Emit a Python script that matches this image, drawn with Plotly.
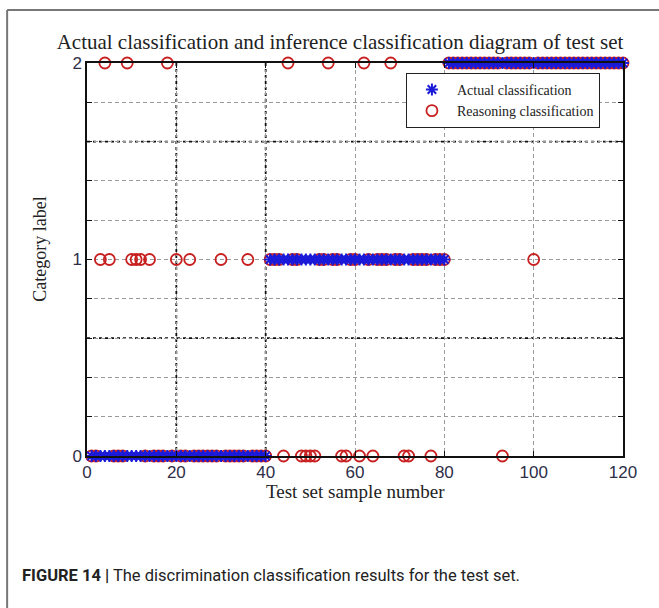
import plotly.graph_objects as go

# Test-set sample numbers
samples = list(range(1, 121))

# Actual category of every test sample
actual = [
    0, 0, 0, 0, 0, 0, 0, 0, 0, 0, 0, 0, 0, 0, 0, 0, 0, 0, 0, 0,
    0, 0, 0, 0, 0, 0, 0, 0, 0, 0, 0, 0, 0, 0, 0, 0, 0, 0, 0, 0,
    1, 1, 1, 1, 1, 1, 1, 1, 1, 1, 1, 1, 1, 1, 1, 1, 1, 1, 1, 1,
    1, 1, 1, 1, 1, 1, 1, 1, 1, 1, 1, 1, 1, 1, 1, 1, 1, 1, 1, 1,
    2, 2, 2, 2, 2, 2, 2, 2, 2, 2, 2, 2, 2, 2, 2, 2, 2, 2, 2, 2,
    2, 2, 2, 2, 2, 2, 2, 2, 2, 2, 2, 2, 2, 2, 2, 2, 2, 2, 2, 2,
]

# Inferred (reasoning) category of every test sample
inferred = [
    0, 0, 1, 2, 1, 0, 0, 0, 2, 1, 1, 1, 0, 1, 0, 0, 0, 2, 0, 1,
    0, 0, 1, 0, 0, 0, 0, 0, 0, 1, 0, 0, 0, 0, 0, 1, 0, 0, 0, 0,
    1, 1, 1, 0, 2, 1, 1, 0, 0, 0, 0, 1, 1, 2, 1, 1, 0, 0, 1, 1,
    0, 2, 1, 0, 1, 1, 1, 2, 1, 1, 0, 0, 1, 1, 1, 1, 0, 1, 1, 1,
    2, 2, 2, 2, 2, 2, 2, 2, 2, 2, 2, 2, 0, 2, 2, 2, 2, 2, 2, 1,
    2, 2, 2, 2, 2, 2, 2, 2, 2, 2, 2, 2, 2, 2, 2, 2, 2, 2, 2, 2,
]

x_ticks = [0, 20, 40, 60, 80, 100, 120]
y_ticks = [0, 1, 2]

title_text = "Actual classification and inference classification diagram of test set"
x_title = "Test set sample number"
y_title = "Category label"
caption = "<b>FIGURE 14 |</b> The discrimination classification results for the test set."

SERIF = "Liberation Serif, Times New Roman, serif"
SANS = "Liberation Sans, Arial, sans-serif"
GRID = "#9a9a9a"

fig = go.Figure()

fig.add_trace(go.Scatter(
    x=samples, y=inferred, mode="markers", name="Reasoning classification",
    legendrank=2, cliponaxis=False,
    marker=dict(symbol="circle-open", size=11, color="#c82020",
                line=dict(width=1.8, color="#c82020")),
))
fig.add_trace(go.Scatter(
    x=samples, y=actual, mode="markers", name="Actual classification",
    legendrank=1, cliponaxis=False,
    marker=dict(symbol="asterisk-open", size=10, color="#1a1ad8",
                line=dict(width=2, color="#1a1ad8")),
))

axis_common = dict(
    showline=True, linecolor="#111", linewidth=1.5, mirror="ticks",
    ticks="inside", ticklen=5, tickcolor="#111",
    showgrid=True, gridcolor=GRID, griddash="4px,3px", gridwidth=1,
    zeroline=False,
    tickfont=dict(family=SANS, size=17, color="#2e2e48"),
)

fig.update_xaxes(range=[0, 120], tickvals=x_ticks, **axis_common)
fig.update_yaxes(
    range=[0, 2], tickvals=y_ticks,
    minor=dict(dtick=0.2, showgrid=True, gridcolor=GRID, griddash="4px,3px",
               ticks="inside", ticklen=5, tickcolor="#111"),
    **axis_common,
)

# darker dotted grid lines
shapes = []
for xv in [20, 40]:
    shapes.append(dict(type="line", xref="x", yref="paper", x0=xv, x1=xv, y0=0, y1=1,
                       line=dict(color="#111", width=1.8, dash="dot"), layer="below"))
for yv in [0.6, 1.6]:
    shapes.append(dict(type="line", xref="paper", yref="y", x0=0, x1=1, y0=yv, y1=yv,
                       line=dict(color="#111", width=1.8, dash="dot"), layer="below"))
# panel frame around the figure
shapes.append(dict(type="line", xref="paper", yref="paper", x0=-0.149, x1=1.1,
                   y0=1.135, y1=1.135, line=dict(color="#777", width=2)))
shapes.append(dict(type="line", xref="paper", yref="paper", x0=-0.149, x1=-0.149,
                   y0=1.135, y1=-0.4, line=dict(color="#777", width=2)))

fig.update_layout(
    width=659, height=608,
    margin=dict(l=87, r=36, t=63, b=152),
    paper_bgcolor="white", plot_bgcolor="white",
    title=dict(text=title_text, x=0.516, xanchor="center", y=0.931, yanchor="middle",
               font=dict(family=SERIF, size=21, color="#222")),
    legend=dict(x=0.595, y=0.975, xanchor="left", yanchor="top",
                bgcolor="white", bordercolor="#222", borderwidth=1,
                font=dict(family=SERIF, size=14, color="#222"),
                itemwidth=40, tracegroupgap=0),
    shapes=shapes,
    annotations=[
        dict(text=x_title, xref="paper", yref="paper", x=0.5, y=-0.09,
             xanchor="center", yanchor="middle", showarrow=False,
             font=dict(family=SERIF, size=19, color="#222")),
        dict(text=y_title, xref="paper", yref="paper", x=-0.088, y=0.527,
             xanchor="center", yanchor="middle", showarrow=False, textangle=-90,
             font=dict(family=SERIF, size=18, color="#222")),
        dict(text=caption, xref="paper", yref="paper", x=-0.125, y=-0.303,
             xanchor="left", yanchor="middle", showarrow=False,
             font=dict(family="Liberation Sans Narrow, Roboto, sans-serif", size=16.5, color="#222")),
    ],
)

fig.write_html("out.html")
